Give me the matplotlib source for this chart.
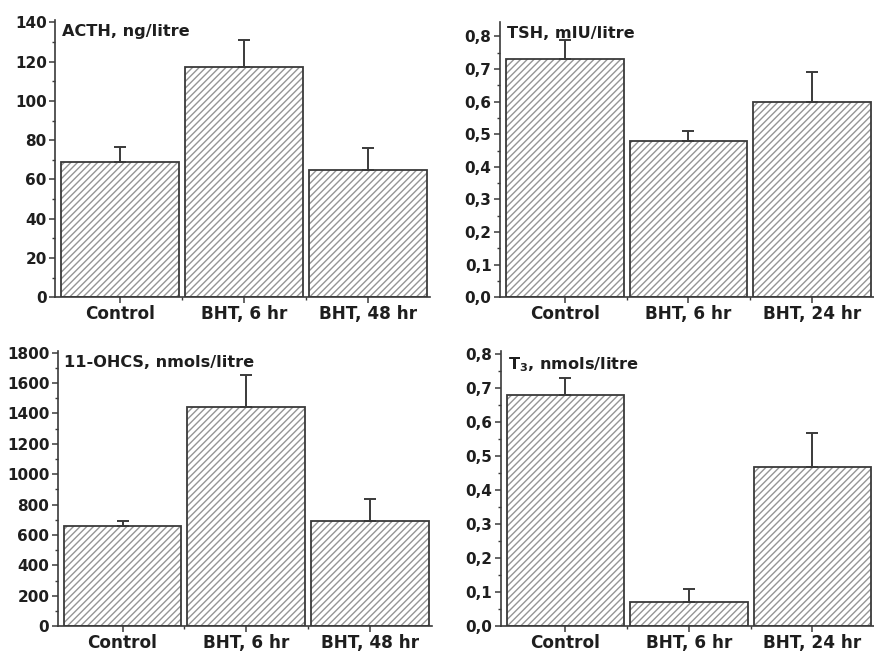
import matplotlib.pyplot as plt
from matplotlib.ticker import FuncFormatter, MultipleLocator, FixedLocator

plt.rcParams['font.family'] = ['DejaVu Sans']
plt.rcParams['font.weight'] = 'bold'
plt.rcParams['mathtext.fontset'] = 'dejavusans'
plt.rcParams['hatch.linewidth'] = 1.0

labels_48 = ['Control', 'BHT, 6 hr', 'BHT, 48 hr']
labels_24 = ['Control', 'BHT, 6 hr', 'BHT, 24 hr']

acth = [69, 117, 65]
acth_err = [7.5, 14, 11]
tsh = [0.73, 0.48, 0.60]
tsh_err = [0.06, 0.03, 0.09]
ohcs = [660, 1440, 690]
ohcs_err = [30, 210, 150]
t3 = [0.68, 0.07, 0.47]
t3_err = [0.05, 0.04, 0.10]

dark = '#3a3a3a'
hatch_col = '#959595'
txt = '#1e1e1e'

fig = plt.figure(figsize=(8.74, 6.55), dpi=100)


def panel(rect, vals, errs, labels, title, ymax, major, minor, comma):
    ax = fig.add_axes(rect)
    x = [1, 2, 3]
    # hatch layer, then a dark outline on top
    ax.bar(x, vals, width=0.952, color='white', edgecolor=hatch_col,
           hatch='/////', linewidth=0)
    ax.bar(x, vals, width=0.952, fill=False, edgecolor=dark, linewidth=1.3)
    ax.errorbar(x, vals, yerr=[[0, 0, 0], errs], fmt='none', ecolor=dark,
                elinewidth=1.4, capsize=4, capthick=1.4)
    ax.set_xlim(0.476, 3.5)
    ax.set_ylim(0, ymax)
    for s in ['top', 'right']:
        ax.spines[s].set_visible(False)
    for s in ['left', 'bottom']:
        ax.spines[s].set_color(dark)
        ax.spines[s].set_linewidth(1.2)
    ax.set_xticks(x)
    ax.set_xticklabels(labels, fontsize=12.2, fontweight='bold', color=txt)
    ax.xaxis.set_minor_locator(FixedLocator([1.5, 2.5]))
    ax.yaxis.set_major_locator(MultipleLocator(major))
    ax.yaxis.set_minor_locator(MultipleLocator(minor))
    if comma:
        ax.yaxis.set_major_formatter(FuncFormatter(lambda v, p: f'{v:.1f}'.replace('.', ',')))
    else:
        ax.yaxis.set_major_formatter(FuncFormatter(lambda v, p: f'{v:.0f}'))
    ax.tick_params(axis='both', which='major', direction='out', length=4,
                   width=1.1, color=dark, labelsize=11, labelcolor=txt, pad=2)
    ax.tick_params(axis='both', which='minor', direction='out', length=2.5,
                   width=1.0, color=dark)
    ax.tick_params(axis='x', which='major', labelsize=12.2, pad=1.5)
    for lab in ax.get_yticklabels():
        lab.set_fontweight('bold')
    ax.text(0.018, 0.985, title, transform=ax.transAxes, ha='left', va='top',
            fontsize=11.6, fontweight='bold', color=txt)
    return ax


panel([0.063, 0.546, 0.429, 0.423], acth, acth_err, labels_48,
      'ACTH, ng/litre', 141, 20, 10, False)
panel([0.572, 0.546, 0.428, 0.421], tsh, tsh_err, labels_24,
      'TSH, mIU/litre', 0.845, 0.1, 0.05, True)
panel([0.066, 0.044, 0.428, 0.420], ohcs, ohcs_err, labels_48,
      '11-OHCS, nmols/litre', 1810, 200, 100, False)
panel([0.573, 0.044, 0.427, 0.420], t3, t3_err, labels_24,
      r'T$_\mathbf{3}$, nmols/litre', 0.81, 0.1, 0.05, True)

fig.savefig('out.png', dpi=100)
